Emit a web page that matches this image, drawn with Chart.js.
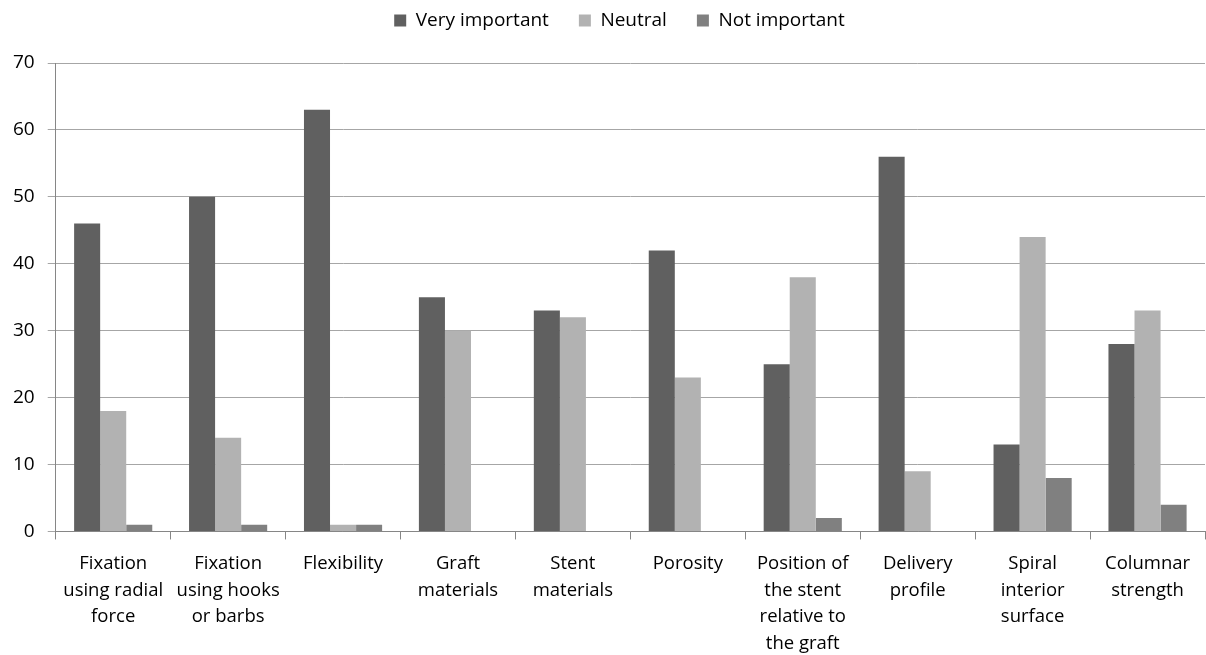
<!DOCTYPE html>
<html><head><meta charset="utf-8">
<script src="https://cdn.jsdelivr.net/npm/chart.js@4/dist/chart.umd.min.js"></script>
<style>html,body{margin:0;padding:0;background:#fff}#wrap{width:1206px;height:655px}</style>
</head><body><div id="wrap"><canvas id="c" width="1206" height="655"></canvas></div>
<script>
const categories = [
  ["Fixation","using radial","force"],
  ["Fixation","using hooks","or barbs"],
  ["Flexibility"],
  ["Graft","materials"],
  ["Stent","materials"],
  ["Porosity"],
  ["Position of","the stent","relative to","the graft"],
  ["Delivery","profile"],
  ["Spiral","interior","surface"],
  ["Columnar","strength"]
];
const veryImportant = [46,50,63,35,33,42,25,56,13,28];
const neutral = [18,14,1,30,32,23,38,9,44,33];
const notImportant = [1,1,1,0,0,0,2,0,8,4];
const yTicks = [0,10,20,30,40,50,60,70];

const font = "Open Sans, 'Liberation Sans', sans-serif";
const legendTweak = {
  id:'legendTweak',
  beforeInit(chart){
    const lg = chart.legend;
    const origFit = lg.fit;
    lg.fit = function(){ origFit.call(this); this.height += 23; };
    const origDraw = lg.draw;
    lg.draw = function(){
      const ctx = this.ctx;
      ctx.save(); ctx.translate(17,0); origDraw.call(this); ctx.restore();
    };
  }
};
new Chart(document.getElementById('c'), {
  type: 'bar',
  data: {
    labels: categories,
    datasets: [
      {label:'Very important', data: veryImportant, backgroundColor:'#606060'},
      {label:'Neutral', data: neutral, backgroundColor:'#b2b2b2'},
      {label:'Not important', data: notImportant, backgroundColor:'#808080'}
    ]
  },
  plugins:[legendTweak],
  options: {
    responsive:false, animation:false,
    layout:{padding:{left:0,right:1,top:-19,bottom:-13}},
    datasets:{bar:{categoryPercentage:0.68, barPercentage:1}},
    plugins:{
      legend:{position:'top', labels:{boxWidth:12, boxHeight:12, font:{family:font,size:19}, color:'#000', padding:30}},
      tooltip:{enabled:false}
    },
    scales:{
      x:{
        grid:{offset:true, drawOnChartArea:false, color:'#868686', tickLength:8},
        border:{color:'#868686'},
        ticks:{font:{family:font,size:18.5,lineHeight:1.44}, color:'#000', maxRotation:0, autoSkip:false, padding:11}
      },
      y:{
        min:0, max:70,
        afterBuildTicks: ax => { ax.ticks = yTicks.map(v=>({value:v})); },
        grid:{color:'#a6a6a6', tickLength:8},
        border:{color:'#868686'},
        ticks:{font:{family:font,size:19}, color:'#000', padding:13}
      }
    }
  }
});
</script></body></html>
